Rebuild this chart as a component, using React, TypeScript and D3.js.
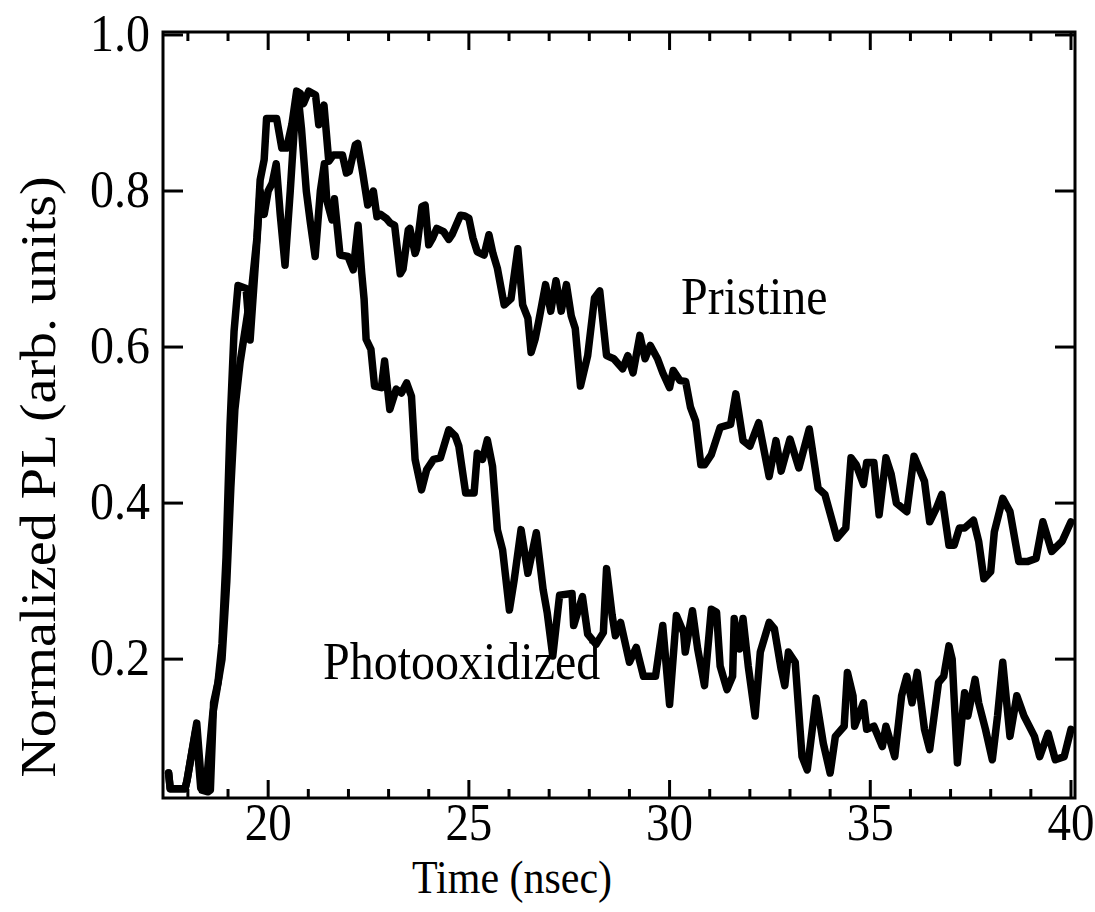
import React from "react";
import * as d3 from "d3";

const pristineTime = [17.52,17.56,17.93,17.98,18.2,18.32,18.45,18.62,18.72,18.85,18.97,19.07,19.17,19.3,19.45,19.6,19.72,19.8,19.9,19.96,20.21,20.34,20.46,20.59,20.71,20.8,20.88,21.01,21.18,21.26,21.39,21.51,21.62,21.85,21.95,22.02,22.17,22.23,22.35,22.48,22.62,22.71,22.8,22.94,23.04,23.15,23.29,23.36,23.49,23.53,23.66,23.7,23.83,23.91,24.0,24.1,24.2,24.37,24.5,24.58,24.79,24.9,25.0,25.1,25.21,25.38,25.5,25.6,25.71,25.88,26.05,26.22,26.34,26.47,26.55,26.65,26.74,26.91,27.04,27.17,27.3,27.43,27.55,27.65,27.78,27.96,28.13,28.26,28.43,28.61,28.83,28.96,29.09,29.26,29.39,29.52,29.7,29.83,30.0,30.09,30.26,30.4,30.52,30.65,30.78,30.87,31.04,31.26,31.52,31.65,31.83,32.0,32.22,32.48,32.65,32.78,33.0,33.22,33.48,33.7,33.87,34.17,34.39,34.52,34.65,34.83,34.91,35.09,35.22,35.39,35.52,35.65,35.91,36.09,36.35,36.48,36.65,36.78,36.96,37.09,37.22,37.35,37.57,37.7,37.83,38.0,38.09,38.3,38.48,38.7,38.91,39.13,39.3,39.52,39.78,40.0];
const pristineValue = [0.054,0.034,0.034,0.045,0.11,0.035,0.035,0.13,0.16,0.2,0.3,0.42,0.52,0.58,0.63,0.68,0.74,0.814,0.84,0.893,0.893,0.855,0.855,0.885,0.928,0.925,0.912,0.928,0.923,0.885,0.91,0.838,0.846,0.846,0.823,0.825,0.859,0.861,0.825,0.782,0.8,0.767,0.77,0.765,0.759,0.756,0.694,0.7,0.75,0.752,0.72,0.726,0.78,0.782,0.731,0.74,0.752,0.748,0.738,0.744,0.769,0.768,0.765,0.74,0.722,0.718,0.744,0.72,0.701,0.654,0.662,0.726,0.654,0.637,0.593,0.61,0.633,0.68,0.646,0.685,0.646,0.68,0.64,0.624,0.55,0.589,0.663,0.672,0.589,0.585,0.572,0.589,0.567,0.615,0.585,0.602,0.585,0.567,0.548,0.57,0.557,0.556,0.523,0.505,0.449,0.449,0.462,0.497,0.501,0.54,0.48,0.473,0.503,0.434,0.48,0.441,0.482,0.445,0.495,0.419,0.411,0.355,0.368,0.458,0.449,0.424,0.452,0.452,0.385,0.458,0.437,0.4,0.389,0.46,0.428,0.376,0.394,0.411,0.346,0.346,0.368,0.368,0.378,0.351,0.303,0.312,0.363,0.406,0.389,0.325,0.325,0.329,0.376,0.338,0.351,0.376];

const photoTime = [17.52,17.56,17.93,17.98,18.22,18.35,18.5,18.56,18.64,18.75,18.85,18.95,19.05,19.15,19.25,19.45,19.55,19.7,19.8,19.9,20.0,20.1,20.2,20.3,20.42,20.55,20.65,20.75,20.83,20.95,21.05,21.17,21.3,21.4,21.46,21.59,21.65,21.79,21.99,22.12,22.24,22.33,22.39,22.44,22.56,22.65,22.82,22.9,23.03,23.19,23.32,23.45,23.57,23.66,23.82,23.95,24.12,24.29,24.5,24.66,24.75,24.92,25.13,25.21,25.34,25.46,25.59,25.71,25.84,26.01,26.13,26.3,26.47,26.68,26.85,26.95,27.09,27.26,27.57,27.61,27.83,27.96,28.17,28.35,28.43,28.57,28.65,28.78,29.0,29.17,29.35,29.65,29.83,30.0,30.17,30.35,30.39,30.57,30.7,30.87,31.04,31.17,31.26,31.43,31.57,31.61,31.74,31.83,31.96,32.13,32.26,32.48,32.61,32.78,32.87,32.96,33.13,33.3,33.43,33.65,33.83,34.0,34.13,34.35,34.43,34.57,34.61,34.83,34.91,35.09,35.3,35.39,35.61,35.78,35.91,36.04,36.17,36.35,36.48,36.7,36.83,36.96,37.04,37.17,37.35,37.43,37.61,37.7,37.87,38.04,38.17,38.3,38.48,38.65,38.83,39.09,39.22,39.43,39.61,39.83,40.0];
const photoValue = [0.054,0.034,0.034,0.045,0.118,0.032,0.03,0.032,0.144,0.17,0.22,0.33,0.5,0.62,0.679,0.675,0.609,0.72,0.8,0.77,0.8,0.81,0.835,0.77,0.705,0.8,0.88,0.92,0.88,0.8,0.76,0.716,0.8,0.835,0.788,0.763,0.79,0.718,0.716,0.699,0.756,0.695,0.661,0.61,0.597,0.55,0.548,0.582,0.52,0.546,0.541,0.554,0.537,0.456,0.417,0.443,0.456,0.458,0.494,0.486,0.473,0.413,0.413,0.464,0.456,0.481,0.447,0.366,0.34,0.263,0.302,0.366,0.31,0.362,0.289,0.26,0.204,0.282,0.284,0.243,0.28,0.232,0.219,0.234,0.316,0.256,0.23,0.247,0.196,0.215,0.178,0.178,0.243,0.142,0.256,0.234,0.209,0.262,0.213,0.166,0.264,0.26,0.191,0.161,0.178,0.252,0.213,0.252,0.191,0.127,0.209,0.247,0.239,0.187,0.166,0.209,0.196,0.075,0.058,0.15,0.092,0.054,0.101,0.114,0.183,0.153,0.114,0.144,0.11,0.114,0.088,0.114,0.075,0.153,0.178,0.144,0.183,0.11,0.084,0.17,0.178,0.217,0.2,0.067,0.157,0.127,0.174,0.144,0.11,0.071,0.127,0.196,0.101,0.153,0.127,0.101,0.075,0.105,0.071,0.075,0.11];

const xMajorTicks = [20, 25, 30, 35, 40];
const xMinorTicks = [18, 19, 21, 22, 23, 24, 26, 27, 28, 29, 31, 32, 33, 34, 36, 37, 38, 39];
const yTicks = [0.2, 0.4, 0.6, 0.8, 1.0];
const yTickLabels = ["0.2", "0.4", "0.6", "0.8", "1.0"];

const FONT = "'Liberation Serif', 'Times New Roman', serif";
const SY = 1.12;

export default function App() {
  const x = d3.scaleLinear().domain([17.38, 40.1]).range([163, 1075]);
  const y = d3.scaleLinear().domain([0.022, 1.0038]).range([798, 32]);
  const line = d3
    .line<[number, number]>()
    .x((d) => x(d[0]))
    .y((d) => y(d[1]));
  const pristine = pristineTime.map((t, i) => [t, pristineValue[i]] as [number, number]);
  const photo = photoTime.map((t, i) => [t, photoValue[i]] as [number, number]);
  const [x0, x1] = x.range();
  const [yb, yt] = y.range();

  return (
    <svg
      width={1095}
      height={912}
      style={{ position: "absolute", left: 0, top: 0, background: "#fff" }}
    >
      <rect x={0} y={0} width={1095} height={912} fill="#fff" />
      <g fill="none" stroke="#000" strokeWidth={7.5} strokeLinejoin="round" strokeLinecap="round">
        <path d={line(pristine) || ""} />
        <path d={line(photo) || ""} />
      </g>
      <rect x={x0} y={yt} width={x1 - x0} height={yb - yt} fill="none" stroke="#000" strokeWidth={3} />
      <g stroke="#000" strokeWidth={3}>
        {xMajorTicks.map((t) => (
          <g key={"M" + t}>
            <line x1={x(t)} x2={x(t)} y1={yb} y2={yb - 18} />
            <line x1={x(t)} x2={x(t)} y1={yt} y2={yt + 18} />
          </g>
        ))}
        {xMinorTicks.map((t) => (
          <g key={"m" + t}>
            <line x1={x(t)} x2={x(t)} y1={yb} y2={yb - 9} />
            <line x1={x(t)} x2={x(t)} y1={yt} y2={yt + 9} />
          </g>
        ))}
        {yTicks.map((v) => (
          <g key={"y" + v}>
            <line x1={x0} x2={x0 + 20} y1={y(v)} y2={y(v)} />
            <line x1={x1} x2={x1 - 20} y1={y(v)} y2={y(v)} />
          </g>
        ))}
      </g>
      <g fontFamily={FONT} fill="#000">
        {xMajorTicks.map((t) => (
          <text
            key={"xl" + t}
            transform={`translate(${x(t)},${840}) scale(1,${SY})`}
            textAnchor="middle"
            fontSize={47}
          >
            {t}
          </text>
        ))}
        {yTicks.map((v, i) => (
          <text
            key={"yl" + v}
            transform={`translate(${150},${y(v) + 16}) scale(1,${SY})`}
            textAnchor="end"
            fontSize={48}
          >
            {yTickLabels[i]}
          </text>
        ))}
        <text transform={`translate(${512},${893}) scale(1,1.1)`} textAnchor="middle" fontSize={42}>
          Time (nsec)
        </text>
        <text
          transform={`translate(${55},${477}) rotate(-90) scale(${SY},1)`}
          textAnchor="middle"
          fontSize={50}
        >
          Normalized PL (arb. units)
        </text>
        <text transform={`translate(${681},${314}) scale(1,${SY})`} fontSize={48}>
          Pristine
        </text>
        <text transform={`translate(${323},${679}) scale(1,${SY})`} fontSize={48}>
          Photooxidized
        </text>
      </g>
    </svg>
  );
}
